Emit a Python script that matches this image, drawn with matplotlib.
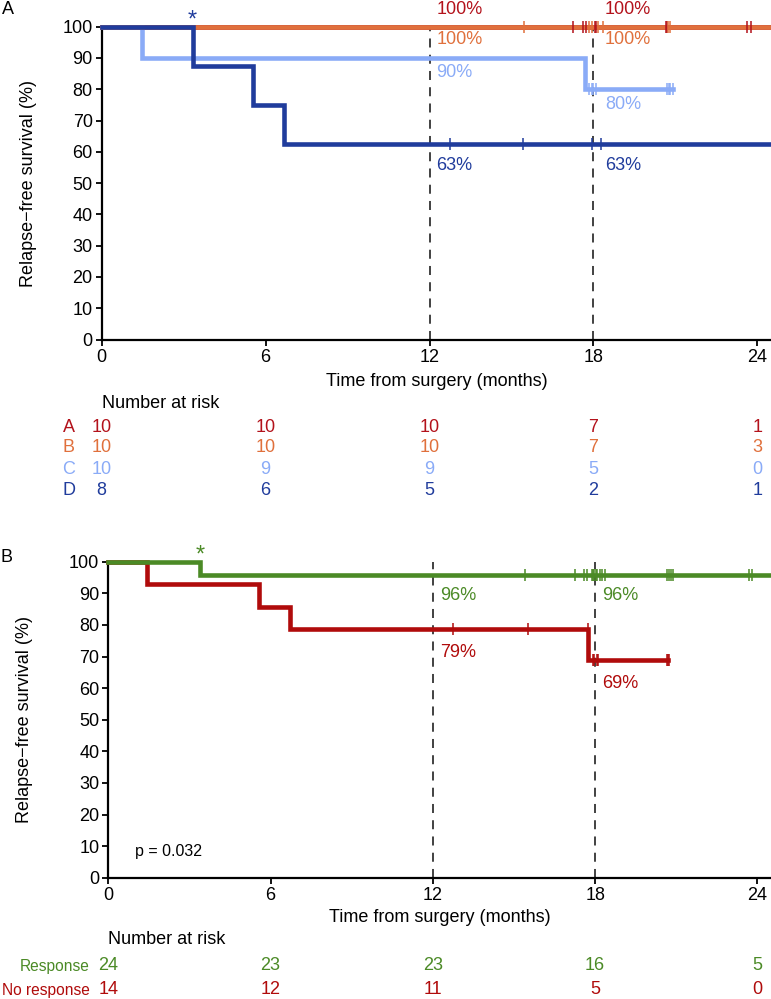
import matplotlib
matplotlib.use("Agg")
import matplotlib.pyplot as plt
import numpy as np
from matplotlib.transforms import blended_transform_factory

plt.rcParams['font.family'] = ['Liberation Sans', 'DejaVu Sans']

# ---------------- data ----------------
# Panel A groups: (event times, censor times, n at start)
groups_A = ["A", "B", "C", "D"]
colors_A = ["#b3121b", "#e0703c", "#8aabf7", "#203c9c"]
n_A = [10, 10, 10, 8]
events_A = [[], [], [1.47, 17.7], [3.33, 5.55, 6.68]]
censor_A = [
    [17.26, 17.61, 17.72, 18.05, 18.1, 20.65, 20.7, 23.63, 23.76],
    [15.47, 17.85, 17.95, 18.17, 18.35, 20.72, 20.8],
    [17.85, 17.93, 17.98, 18.1, 20.7, 20.75, 20.82, 20.9],
    [12.76, 15.42, 17.95, 18.29],
]
end_A = [25.5, 25.5, 20.9, 25.5]
risk_times = [0, 6, 12, 18, 24]
risk_A = [[10, 10, 10, 7, 1], [10, 10, 10, 7, 3], [10, 9, 9, 5, 0], [8, 6, 5, 2, 1]]

# Panel B groups
groups_B = ["Response", "No response"]
colors_B = ["#4b8a26", "#b00b0b"]
n_B = [24, 14]
events_B = [[3.4], [1.43, 5.56, 6.7, 17.73]]
censor_B = [
    [15.42, 17.25, 17.6, 17.68, 17.87, 17.92, 17.97, 18.02, 18.06, 18.18, 18.25,
     18.36, 20.64, 20.72, 20.8, 20.89, 23.69, 23.8],
    [12.76, 15.5, 17.73, 17.92, 17.97, 18.05, 18.1, 20.66, 20.7, 20.72],
]
end_B = [25.5, 20.7]
risk_B = [[24, 23, 23, 16, 5], [14, 12, 11, 5, 0]]

FS = 13

# ---------------- helpers ----------------
def km(n, events, censors, end):
    times = sorted([(t, 1) for t in events] + [(t, 0) for t in censors])
    xs, ys = [0.0], [100.0]
    s = 100.0
    at_risk = n
    cx, cy = [], []
    for t, e in times:
        if e == 1:
            xs.append(t); ys.append(s)
            s = s * (at_risk - 1) / at_risk
            xs.append(t); ys.append(s)
        else:
            cx.append(t); cy.append(s)
        at_risk -= 1
    xs.append(end); ys.append(s)
    return xs, ys, cx, cy

W, H = 771, 999
fig = plt.figure(figsize=(W / 100, H / 100), dpi=100)

def axes_px(left, right, top, bottom):
    return fig.add_axes([left / W, 1 - bottom / H, (right - left) / W, (bottom - top) / H])

def style(ax, xlab_off_px, ylab_x_px):
    ax.set_xlim(0, 24.5)
    ax.set_ylim(0, 100)
    ax.set_xticks([0, 6, 12, 18, 24])
    ax.set_yticks(range(0, 101, 10))
    for s in ["top", "right"]:
        ax.spines[s].set_visible(False)
    for s in ["left", "bottom"]:
        ax.spines[s].set_linewidth(1.6)
    ax.tick_params(axis='both', labelsize=FS, width=1.3, length=4, direction='out', pad=2.5)
    bb = ax.get_position()
    hpx = bb.height * H
    wpx = bb.width * W
    ax.set_xlabel("Time from surgery (months)", fontsize=FS)
    ax.xaxis.set_label_coords(0.5, -xlab_off_px / hpx)
    ax.xaxis.label.set_va('center')
    ax.set_ylabel("Relapse\u2212free survival (%)", fontsize=FS)
    ax.yaxis.set_label_coords(ylab_x_px / wpx, 0.5)
    ax.yaxis.label.set_va('center')
    for xv in (12, 18):
        ax.plot([xv, xv], [0, 100], color="#333333", lw=1.3, ls=(0, (5, 4)), zorder=1)

# ---------------- panel A ----------------
axA = axes_px(101.7, 771, 26.7, 339.5)
style(axA, 42.5, -73.5)
z_A = [2, 4, 3, 5]
for i in range(4):
    xs, ys, cx, cy = km(n_A[i], events_A[i], censor_A[i], end_A[i])
    axA.plot(xs, ys, color=colors_A[i], lw=3.3, solid_joinstyle='miter', clip_on=False, zorder=z_A[i])
    axA.plot(cx, cy, ls='none', marker='|', ms=9, mew=1.1, color=colors_A[i], clip_on=False, zorder=6)

axA.text(3.33, 102.0, "*", color=colors_A[3], fontsize=17, ha='center', va='center', clip_on=False)
labA = [("100%", 105.5, 0), ("100%", 96.0, 1), ("90%", 85.5, 2), ("63%", 55.5, 3)]
labA18 = [("100%", 105.5, 0), ("100%", 96.0, 1), ("80%", 75.0, 2), ("63%", 55.5, 3)]
for t, y, c in labA:
    axA.text(12.25, y, t, color=colors_A[c], fontsize=FS, ha='left', va='center', clip_on=False)
for t, y, c in labA18:
    axA.text(18.42, y, t, color=colors_A[c], fontsize=FS, ha='left', va='center', clip_on=False)

trA = blended_transform_factory(axA.transData, fig.transFigure)
fig.text(101.7 / W, 1 - 403 / H, "Number at risk", fontsize=FS, ha='left', va='center')
rowsA_y = [428, 448, 469, 490]
for i in range(4):
    fig.text(75 / W, 1 - rowsA_y[i] / H, groups_A[i], color=colors_A[i], fontsize=FS, ha='right', va='center')
    for t, v in zip(risk_times, risk_A[i]):
        axA.text(t, 1 - rowsA_y[i] / H, str(v), transform=trA, color=colors_A[i], fontsize=FS,
                 ha='center', va='center')

fig.text(8 / W, 1 - 9 / H, "A", fontsize=FS, ha='center', va='center')

# ---------------- panel B ----------------
axB = axes_px(108.3, 771, 561.7, 877.8)
style(axB, 39.5, -84)
for i in range(2):
    xs, ys, cx, cy = km(n_B[i], events_B[i], censor_B[i], end_B[i])
    axB.plot(xs, ys, color=colors_B[i], lw=3.3, solid_joinstyle='miter', clip_on=False, zorder=4 - i)
    axB.plot(cx, cy, ls='none', marker='|', ms=9, mew=1.1, color=colors_B[i], clip_on=False, zorder=6)

axB.text(3.4, 101.8, "*", color=colors_B[0], fontsize=17, ha='center', va='center', clip_on=False)
for x0 in (12.25, 18.25):
    axB.text(x0, 89.2, "96%", color=colors_B[0], fontsize=FS, ha='left', va='center')
axB.text(12.25, 71.2, "79%", color=colors_B[1], fontsize=FS, ha='left', va='center')
axB.text(18.25, 61.6, "69%", color=colors_B[1], fontsize=FS, ha='left', va='center')
axB.text(1.0, 8.3, "p = 0.032", color="black", fontsize=11.5, ha='left', va='center')

trB = blended_transform_factory(axB.transData, fig.transFigure)
fig.text(108.3 / W, 1 - 939 / H, "Number at risk", fontsize=FS, ha='left', va='center')
rowsB_y = [966, 990]
for i in range(2):
    fig.text(90 / W, 1 - rowsB_y[i] / H, groups_B[i], color=colors_B[i], fontsize=11.2, ha='right', va='center')
    for t, v in zip(risk_times, risk_B[i]):
        axB.text(t, 1 - rowsB_y[i] / H, str(v), transform=trB, color=colors_B[i], fontsize=FS,
                 ha='center', va='center')

fig.text(6 / W, 1 - 557 / H, "B", fontsize=FS, ha='center', va='center')

fig.savefig("out.png", dpi=100)
